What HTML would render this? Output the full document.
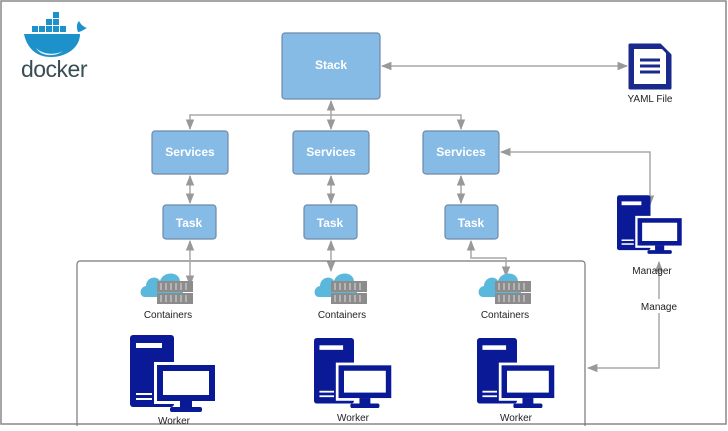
<!DOCTYPE html>
<html><head><meta charset="utf-8"><style>
body{margin:0;width:728px;height:426px;background:#fff;overflow:hidden;font-family:"Liberation Sans",sans-serif}
</style></head><body>
<svg width="728" height="426" viewBox="0 0 728 426" xmlns="http://www.w3.org/2000/svg" font-family="Liberation Sans, sans-serif">
<defs>
<symbol id="pc" viewBox="0 0 88 78">
<rect x="0" y="0" width="44" height="72" rx="3" fill="#0a1a96"/>
<rect x="6" y="8" width="26" height="5" fill="#fff"/>
<rect x="6" y="58" width="16" height="2" fill="#fff"/>
<rect x="6" y="63" width="16" height="2" fill="#fff"/>
<rect x="24" y="27" width="64" height="42" fill="#fff"/>
<rect x="27" y="30" width="58" height="36" fill="#0a1a96"/>
<rect x="33" y="36" width="46" height="24" fill="#fff"/>
<rect x="50" y="66" width="12" height="7" fill="#0a1a96"/>
<rect x="40" y="72" width="32" height="5" rx="2" fill="#0a1a96"/>
</symbol>
<symbol id="ct" viewBox="0 0 56 36">
<path d="M6 28 C0 28 0 18 7 17 C7 8 18 6 21 12 C24 2 40 2 41 12 L44 14 L44 28 Z" fill="#5bb8dd"/>
<rect x="18" y="12" width="36" height="11" fill="#8c8c8c"/>
<rect x="18" y="24" width="36" height="11" fill="#8c8c8c"/>
<g stroke="#d0d0d0" stroke-width="1.2">
<line x1="22" y1="14" x2="22" y2="21"/><line x1="27" y1="14" x2="27" y2="21"/><line x1="32" y1="14" x2="32" y2="21"/><line x1="37" y1="14" x2="37" y2="21"/><line x1="42" y1="14" x2="42" y2="21"/><line x1="47" y1="14" x2="47" y2="21"/>
<line x1="22" y1="26" x2="22" y2="33"/><line x1="27" y1="26" x2="27" y2="33"/><line x1="32" y1="26" x2="32" y2="33"/><line x1="37" y1="26" x2="37" y2="33"/><line x1="42" y1="26" x2="42" y2="33"/><line x1="47" y1="26" x2="47" y2="33"/>
</g>
</symbol>
<marker id="a" viewBox="0 0 10 10" refX="9" refY="5" markerWidth="7" markerHeight="7" orient="auto-start-reverse"><path d="M0 1 L10 5 L0 9 Z" fill="#999"/></marker>
</defs>
<rect x="1" y="1" width="725" height="423" fill="none" stroke="#888" stroke-width="1.5"/>
<rect x="77" y="261" width="508" height="170" rx="3" fill="none" stroke="#777" stroke-width="1.2"/>

<!-- docker logo -->
<g>
<path d="M24 34 L80 34 C80 48 66 57 51 57 C36 57 27 48 24 34 Z" fill="#1d91c9"/>
<path d="M36 48 C43 55 56 55 63 51 C56 57 41 57 36 48Z" fill="#e6f2f8"/>
<path d="M78 32 C76 27 77 23 79 21 C81 25 84 27 87 28 C83 30 81 32 78 32Z" fill="#1d91c9"/>
<g fill="#1d91c9"><rect x="32" y="26" width="6" height="6"/><rect x="39" y="26" width="6" height="6"/><rect x="46" y="26" width="6" height="6"/><rect x="53" y="26" width="6" height="6"/><rect x="60" y="26" width="6" height="6"/><rect x="46" y="19" width="6" height="6"/><rect x="53" y="19" width="6" height="6"/><rect x="53" y="12" width="6" height="6"/></g>
<text x="54" y="77" font-size="23" fill="#394d54" text-anchor="middle" letter-spacing="-0.5">docker</text>
</g>

<g fill="#86bbe6" stroke="#6f89a8" stroke-width="1.2">
<rect x="282" y="33" width="98" height="66" rx="3"/>
<rect x="152" y="131" width="76" height="43" rx="3"/>
<rect x="293" y="131" width="76" height="43" rx="3"/>
<rect x="423" y="131" width="76" height="43" rx="3"/>
<rect x="163" y="205" width="53" height="34" rx="3"/>
<rect x="304" y="205" width="53" height="34" rx="3"/>
<rect x="445" y="205" width="53" height="34" rx="3"/>
</g>
<g fill="#fff" font-weight="bold" font-size="12" text-anchor="middle">
<text x="331" y="69">Stack</text>
<text x="190" y="156">Services</text>
<text x="331" y="156">Services</text>
<text x="461" y="156">Services</text>
<text x="189" y="227">Task</text>
<text x="330" y="227">Task</text>
<text x="471" y="227">Task</text>
</g>

<g fill="none" stroke="#a8a8a8" stroke-width="1.5">
<path d="M190 129 L190 115 L461 115 L461 129" marker-start="url(#a)" marker-end="url(#a)"/>
<path d="M331 101 L331 129" marker-start="url(#a)" marker-end="url(#a)"/>
<path d="M382 66 L627 66" marker-start="url(#a)" marker-end="url(#a)"/>
<path d="M190 176 L190 203" marker-start="url(#a)" marker-end="url(#a)"/>
<path d="M331 176 L331 203" marker-start="url(#a)" marker-end="url(#a)"/>
<path d="M461 176 L461 203" marker-start="url(#a)" marker-end="url(#a)"/>
<path d="M190 241 L190 285" marker-start="url(#a)" marker-end="url(#a)"/>
<path d="M331 241 L331 271" marker-start="url(#a)" marker-end="url(#a)"/>
<path d="M471 241 L471 258 L506 258 L506 276" marker-start="url(#a)" marker-end="url(#a)"/>
<path d="M501 152 L650 152 L650 205" marker-start="url(#a)" marker-end="url(#a)"/>
<path d="M659 262 L659 368 L588 368" marker-start="url(#a)" marker-end="url(#a)"/>
</g>

<!-- YAML file -->
<path d="M630 45 L660 45 L670 55 L670 88 L630 88 Z" fill="#1a2a8c"/>
<rect x="634" y="49" width="32" height="35" fill="#fff"/>
<path d="M630 45 L660 45 L670 55 L670 88 L630 88 Z" fill="none" stroke="#1a2a8c" stroke-width="3" stroke-linejoin="round"/>
<g stroke="#1a2a8c" stroke-width="3"><line x1="640" y1="60" x2="660" y2="60"/><line x1="640" y1="66" x2="660" y2="66"/><line x1="640" y1="72" x2="660" y2="72"/></g>
<text x="650" y="102" font-size="10" text-anchor="middle" fill="#222">YAML File</text>

<use href="#pc" x="617" y="195" width="67" height="60"/>
<text x="652" y="274" font-size="10" text-anchor="middle" fill="#222">Manager</text>
<rect x="638" y="299" width="42" height="14" fill="#fff"/>
<text x="659" y="310" font-size="10" text-anchor="middle" fill="#222">Manage</text>

<use href="#ct" x="139" y="269" width="56" height="36"/>
<use href="#ct" x="313" y="269" width="56" height="36"/>
<use href="#ct" x="477" y="269" width="56" height="36"/>
<text x="168" y="318" font-size="10" text-anchor="middle" fill="#222">Containers</text>
<text x="342" y="318" font-size="10" text-anchor="middle" fill="#222">Containers</text>
<text x="505" y="318" font-size="10" text-anchor="middle" fill="#222">Containers</text>

<use href="#pc" x="130" y="335" width="88" height="78"/>
<use href="#pc" x="314" y="338" width="80" height="71"/>
<use href="#pc" x="477" y="338" width="80" height="71"/>
<text x="174" y="424" font-size="10" text-anchor="middle" fill="#222">Worker</text>
<text x="353" y="421" font-size="10" text-anchor="middle" fill="#222">Worker</text>
<text x="516" y="421" font-size="10" text-anchor="middle" fill="#222">Worker</text>
</svg>
</body></html>
